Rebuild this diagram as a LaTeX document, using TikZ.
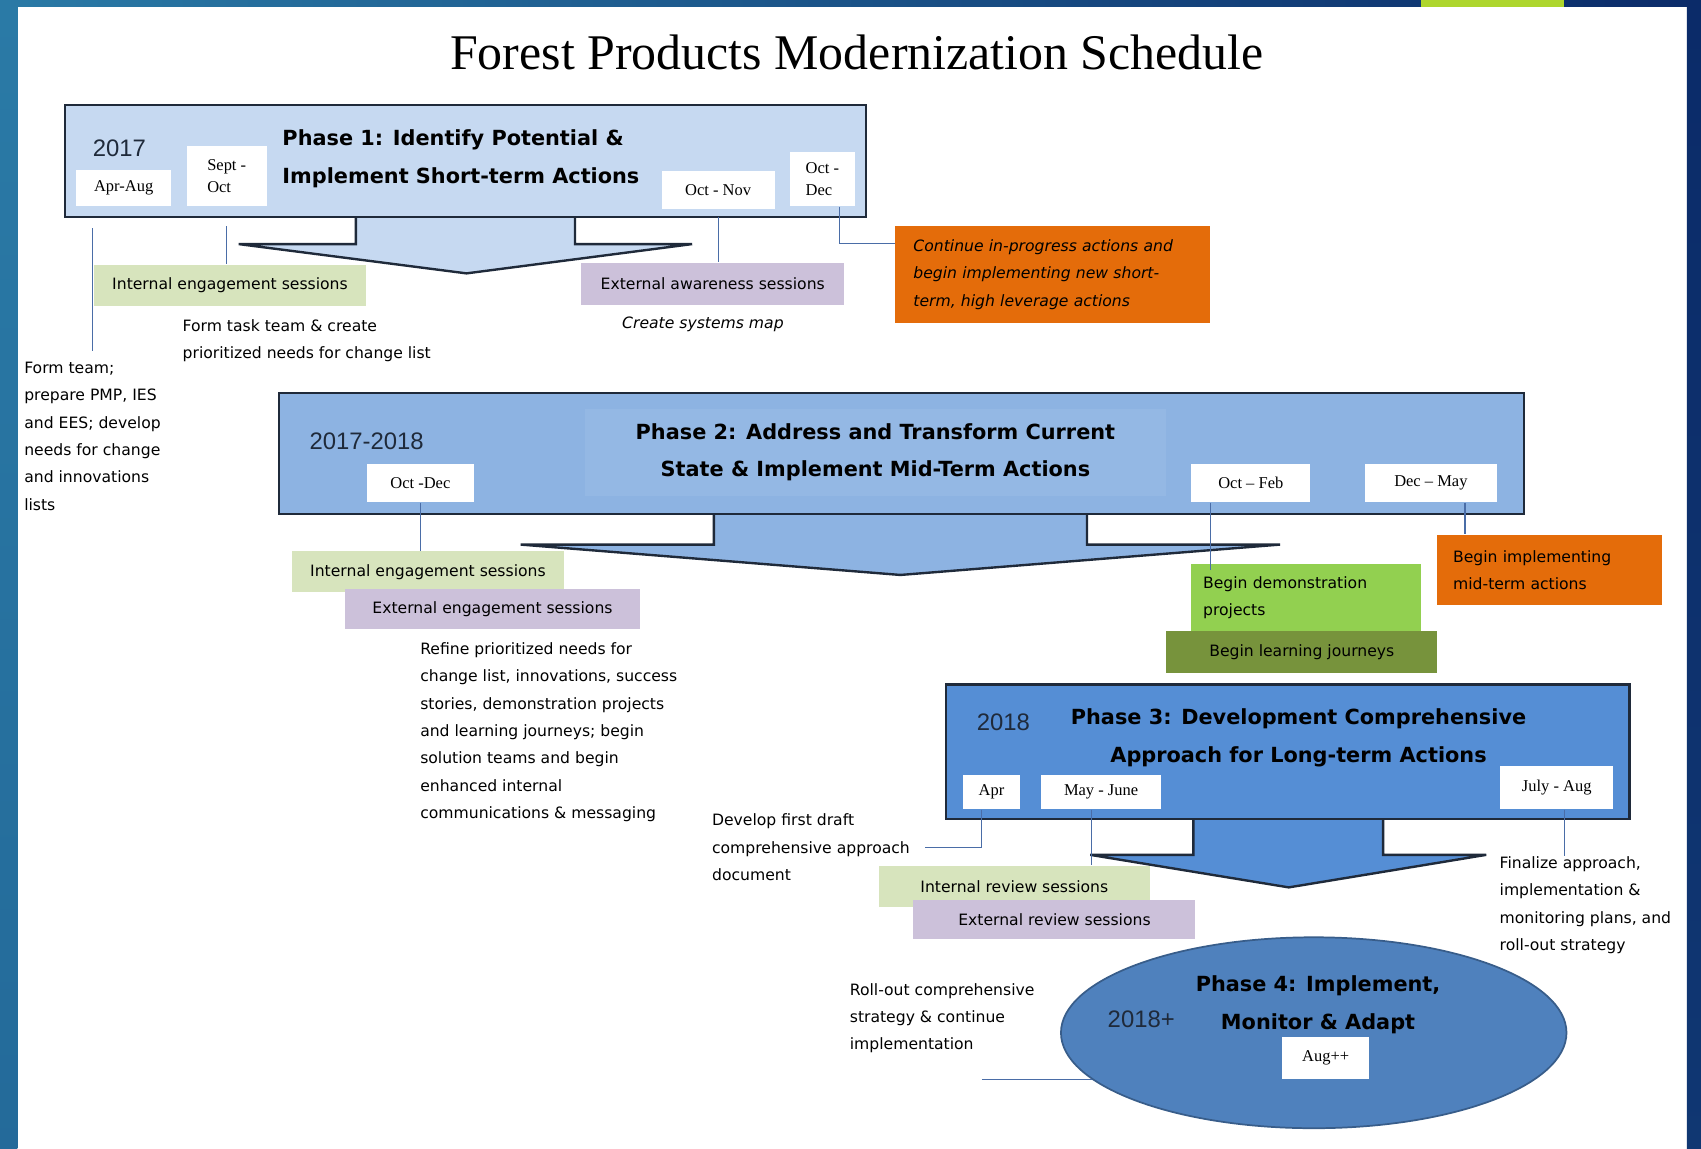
\documentclass[tikz,border=0pt]{standalone}
\usepackage{fontspec}
\setmainfont{DejaVu Sans}
\newfontfamily\datefont{Liberation Serif}
\newfontfamily\yearfont{Liberation Sans}
\usepackage{tikz}
\usetikzlibrary{calc,positioning,shapes.geometric}
\definecolor{Ink}{HTML}{1F2A3A}
\definecolor{PhaseOne}{HTML}{C6D9F1}
\definecolor{PhaseTwo}{HTML}{8DB3E2}
\definecolor{PhaseTwoHi}{HTML}{94B8E4}
\definecolor{PhaseThree}{HTML}{558ED5}
\definecolor{PhaseFour}{HTML}{4F81BD}
\definecolor{PhaseFourRim}{HTML}{385D8A}
\definecolor{InGreen}{HTML}{D7E4BD}
\definecolor{ExPurple}{HTML}{CCC1DA}
\definecolor{Pumpkin}{HTML}{E46C0A}
\definecolor{DemoGreen}{HTML}{92D050}
\definecolor{Olive}{HTML}{77933C}
\definecolor{Wire}{HTML}{4A6DA7}
\definecolor{FrameTeal}{HTML}{2A7AA6}
\definecolor{FrameNavy}{HTML}{0B2B69}
\definecolor{Lime}{HTML}{AED62E}
\tikzset{
  phasebody/.style={draw=Ink, line width=1pt, inner sep=0pt},
  phasearrow/.style={draw=Ink, line width=1.1pt, line join=miter},
  phasetitle/.style={font=\bfseries\fontsize{9.6}{17.4}\selectfont, align=center, inner sep=0pt},
  year/.style={font=\yearfont\fontsize{11}{13}\selectfont, text=Ink, inner sep=0pt},
  datebox/.style={fill=white, inner sep=0pt, align=left, font=\datefont\fontsize{7.6}{10}\selectfont},
  sessbox/.style={inner sep=0pt, align=left, font=\fontsize{7.2}{12.6}\selectfont},
  note/.style={inner sep=0pt, align=left, font=\fontsize{7.2}{12.6}\selectfont},
  wire/.style={draw=Wire, line width=0.6pt}
}

\begin{document}
\begin{tikzpicture}[x=0.5pt,y=-0.5pt]
    \useasboundingbox (0,0) rectangle (1568,1059);
    \fill[white] (0,0) rectangle (1568,1059);
    \shade[top color=FrameTeal, bottom color=FrameTeal!80!FrameNavy] (0,0) rectangle (16,1059);
    \shade[left color=FrameTeal, right color=FrameNavy] (0,0) rectangle (1568,6);
    \shade[top color=FrameNavy, bottom color=FrameNavy!85!FrameTeal] (1555,0) rectangle (1568,1059);
    \fill[Lime] (1310,0) rectangle (1442,6);

    \node[font=\datefont\fontsize{23}{26}\selectfont, inner sep=0pt] (title) at (790,48) {Forest Products Modernization Schedule};

    \filldraw[phasearrow, fill=PhaseOne] (328,200) -- (328,225) -- (220,225) -- (430,252) -- (638,225) -- (530,225) -- (530,200);
    \node[phasebody, fill=PhaseOne, minimum width=369pt, minimum height=51.5pt] (phaseOne) at (429,148.5) {};
    \node[year] (yearOne) at (110,137) {2017};
    \node[datebox, minimum width=44pt, minimum height=16.5pt] (aprAug) at (114,173.5) {Apr-Aug};
    \node[datebox, minimum width=37pt, minimum height=27.5pt] (septOct) at (209,162.5) {Sept -\\Oct};
    \node[phasetitle, align=left, anchor=west] (titleOne) at (260,146) {Phase 1: Identify Potential \&\\Implement Short-term Actions};
    \node[datebox, minimum width=52pt, minimum height=17.5pt] (octNov) at (662,175.5) {Oct - Nov};
    \node[datebox, minimum width=30pt, minimum height=25pt] (octDec) at (758,165) {Oct -\\Dec};

    \node[sessbox, fill=InGreen, minimum width=125pt, minimum height=19pt] (intEngOne) at (212,263) {Internal engagement sessions};
    \node[sessbox, fill=ExPurple, minimum width=121pt, minimum height=19.5pt] (extAware) at (657,261.5) {External awareness sessions};
    \node[note, anchor=west] (formTask) at (168,314) {Form task team \& create\\prioritized needs for change list};
    \node[note, font=\itshape\fontsize{7.2}{12.6}\selectfont] (sysMap) at (648,299) {Create systems map};
    \node[note, anchor=west] (formTeam) at (22,402) {Form team;\\prepare PMP, IES\\and EES; develop\\needs for change\\and innovations\\lists};
    \node[sessbox, fill=Pumpkin, minimum width=145pt, minimum height=45pt, text width=128pt, font=\itshape\fontsize{7.2}{12.6}\selectfont] (contin) at (970,253) {Continue in-progress actions and\\begin implementing new short-\\term, high leverage actions};

    \filldraw[phasearrow, fill=PhaseTwo] (658,474) -- (658,502) -- (480,502) -- (830,530) -- (1180,502) -- (1002,502) -- (1002,474);
    \node[phasebody, fill=PhaseTwo, minimum width=574pt, minimum height=56pt] (phaseTwo) at (831,418) {};
    \node[phasetitle, fill=PhaseTwoHi, minimum width=267.5pt, minimum height=40pt] (titleTwo) at (807,417) {Phase 2: Address and Transform Current\\State \& Implement Mid-Term Actions};
    \node[year] (yearTwo) at (338,407) {2017-2018};
    \node[datebox, minimum width=49.5pt, minimum height=17.5pt] (octDecTwo) at (387.5,445.5) {Oct -Dec};
    \node[datebox, minimum width=55pt, minimum height=17.5pt] (octFeb) at (1153,445.5) {Oct – Feb};
    \node[datebox, minimum width=61pt, minimum height=17.5pt] (decMay) at (1319,445.5) {Dec – May};

    \node[sessbox, fill=InGreen, minimum width=125.5pt, minimum height=19pt] (intEngTwo) at (394.5,527) {Internal engagement sessions};
    \node[sessbox, fill=ExPurple, minimum width=136pt, minimum height=18.5pt] (extEng) at (454,561.5) {External engagement sessions};
    \node[note, anchor=west] (refine) at (387,675) {Refine prioritized needs for\\change list, innovations, success\\stories, demonstration projects\\and learning journeys; begin\\solution teams and begin\\enhanced internal\\communications \& messaging};
    \node[sessbox, fill=DemoGreen, minimum width=106pt, minimum height=31pt, text width=95pt] (demo) at (1204,551) {Begin demonstration\\projects};
    \node[sessbox, fill=Olive, minimum width=125pt, minimum height=19pt] (journeys) at (1200,601) {Begin learning journeys};
    \node[sessbox, fill=Pumpkin, minimum width=103.5pt, minimum height=32.5pt, text width=89pt] (midTerm) at (1428.5,525.5) {Begin implementing\\mid-term actions};

    \filldraw[phasearrow, fill=PhaseThree] (1100,755) -- (1100,788) -- (1005,788) -- (1188,818) -- (1370,788) -- (1275,788) -- (1275,755);
    \node[phasebody, fill=PhaseThree, minimum width=315pt, minimum height=62pt] (phaseThree) at (1187,693) {};
    \node[year] (yearThree) at (925,666) {2018};
    \node[phasetitle] (titleThree) at (1197,680) {Phase 3: Development Comprehensive\\Approach for Long-term Actions};
    \node[datebox, minimum width=26pt, minimum height=16pt] (apr) at (914,730) {Apr};
    \node[datebox, minimum width=55pt, minimum height=16pt] (mayJune) at (1015,730) {May - June};
    \node[datebox, minimum width=52pt, minimum height=20pt] (julyAug) at (1435,726) {July - Aug};

    \node[note, anchor=west] (develop) at (656,781) {Develop first draft\\comprehensive approach\\document};
    \node[sessbox, fill=InGreen, minimum width=125pt, minimum height=19pt] (intRev) at (935,817) {Internal review sessions};
    \node[sessbox, fill=ExPurple, minimum width=130pt, minimum height=18pt] (extRev) at (972,848) {External review sessions};
    \node[note, anchor=west] (finalize) at (1382,834.5) {Finalize approach,\\implementation \&\\monitoring plans, and\\roll-out strategy};

    \node[ellipse, draw=PhaseFourRim, line width=0.8pt, fill=PhaseFour, minimum width=233pt, minimum height=88pt, inner sep=0pt] (phaseFour) at (1211,952) {};
    \node[phasetitle] (titleFour) at (1215,926.5) {Phase 4: Implement,\\Monitor \& Adapt};
    \node[year] (yearFour) at (1052,940) {2018+};
    \node[datebox, minimum width=40pt, minimum height=19.5pt] (augPlus) at (1222,975.5) {Aug++};
    \node[note, anchor=west] (rollOut) at (783,938.5) {Roll-out comprehensive\\strategy \& continue\\implementation};
    \coordinate (rollTail) at (905,995);

    \coordinate (decDrop) at ($(octDec.south)+(16,0)$);
    \coordinate (febDrop) at ($(octFeb.south west)+(18,0)$);
    \coordinate (mayDrop) at ($(decMay.south east)+(-30,0)$);
    \coordinate (aprDrop) at ($(apr.south)+(-9,0)$);
    \coordinate (juneDrop) at ($(mayJune.south)+(-9,0)$);
    \coordinate (augDrop) at ($(julyAug.south)+(7,0)$);
    \draw[wire, shorten <=10pt, shorten >=5pt] (formTeam.north |- aprAug.south) -- (formTeam.north);
    \draw[wire, shorten <=9pt] (septOct.south) -- (septOct.south |- intEngOne.north);
    \draw[wire, shorten <=3.5pt] (octNov.south) -- (octNov.south |- extAware.north);
    \draw[wire] (decDrop) |- ($(contin.north west)+(0,17)$);
    \draw[wire] (octDecTwo.south) -- (octDecTwo.south |- intEngTwo.north);
    \draw[wire, shorten >=-3pt] (febDrop) -- (febDrop |- demo.north);
    \draw[wire] (mayDrop) -- (mayDrop |- midTerm.north);
    \draw[wire, shorten >=7pt] (aprDrop) |- (develop.east);
    \draw[wire] (juneDrop) -- (juneDrop |- intRev.north);
    \draw[wire] (augDrop) -- (augDrop |- finalize.north);
    \draw[wire] (rollTail) -- (rollTail -| phaseFour.192);
\end{tikzpicture}
\end{document}
